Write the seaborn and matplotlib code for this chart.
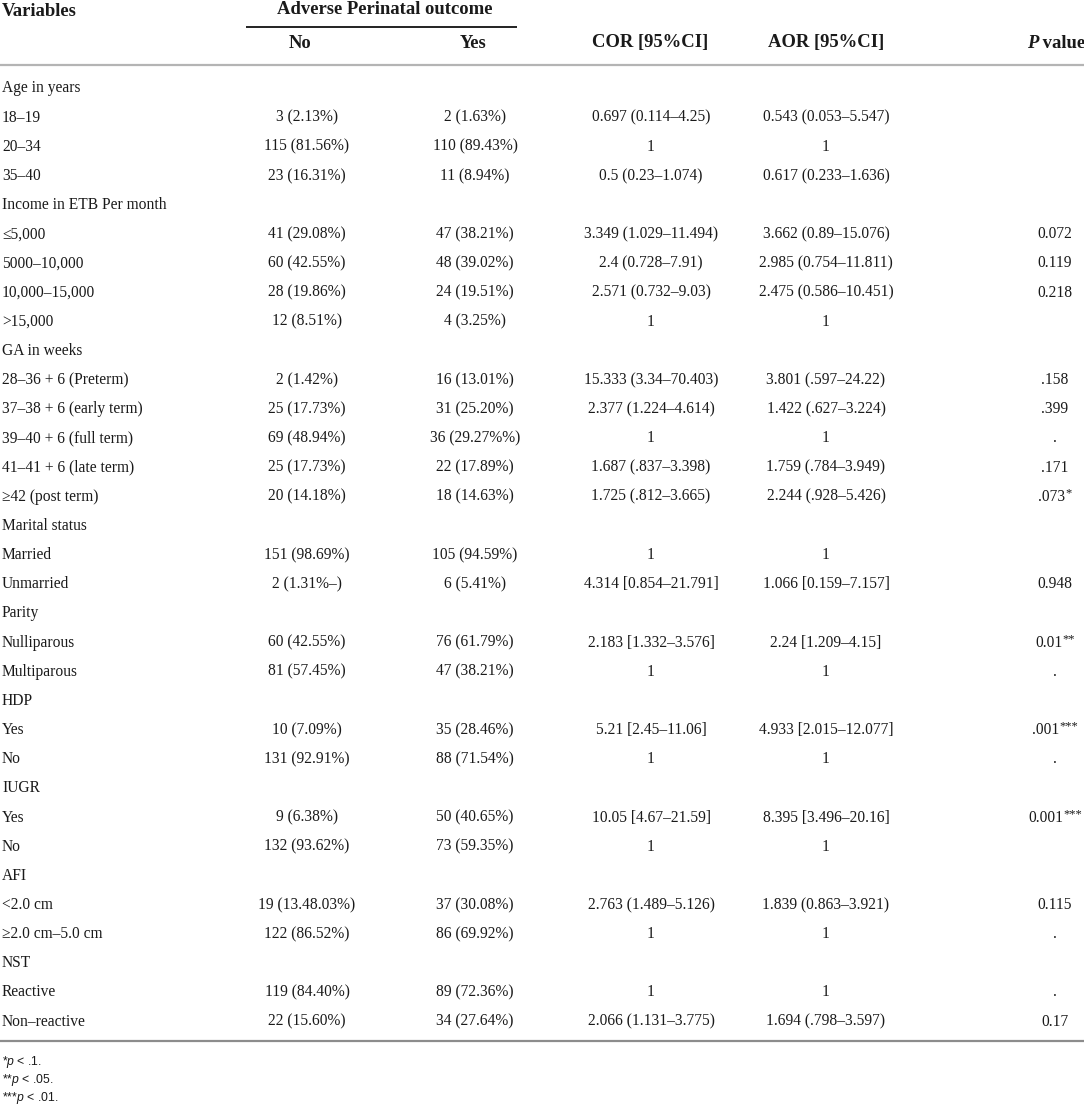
import matplotlib
matplotlib.use("Agg")
import matplotlib.pyplot as plt
import seaborn as sns

# ---------------- data ----------------
variables = ["Age in years", "18–19", "20–34", "35–40",
             "Income in ETB Per month", "≤5,000", "5000–10,000", "10,000–15,000", ">15,000",
             "GA in weeks", "28–36 + 6 (Preterm)", "37–38 + 6 (early term)", "39–40 + 6 (full term)",
             "41–41 + 6 (late term)", "≥42 (post term)",
             "Marital status", "Married", "Unmarried",
             "Parity", "Nulliparous", "Multiparous",
             "HDP", "Yes", "No",
             "IUGR", "Yes", "No",
             "AFI", "<2.0 cm", "≥2.0 cm–5.0 cm",
             "NST", "Reactive", "Non–reactive"]

outcome_no = ["", "3 (2.13%)", "115 (81.56%)", "23 (16.31%)",
              "", "41 (29.08%)", "60 (42.55%)", "28 (19.86%)", "12 (8.51%)",
              "", "2 (1.42%)", "25 (17.73%)", "69 (48.94%)", "25 (17.73%)", "20 (14.18%)",
              "", "151 (98.69%)", "2 (1.31%–)",
              "", "60 (42.55%)", "81 (57.45%)",
              "", "10 (7.09%)", "131 (92.91%)",
              "", "9 (6.38%)", "132 (93.62%)",
              "", "19 (13.48.03%)", "122 (86.52%)",
              "", "119 (84.40%)", "22 (15.60%)"]

outcome_yes = ["", "2 (1.63%)", "110 (89.43%)", "11 (8.94%)",
               "", "47 (38.21%)", "48 (39.02%)", "24 (19.51%)", "4 (3.25%)",
               "", "16 (13.01%)", "31 (25.20%)", "36 (29.27%%)", "22 (17.89%)", "18 (14.63%)",
               "", "105 (94.59%)", "6 (5.41%)",
               "", "76 (61.79%)", "47 (38.21%)",
               "", "35 (28.46%)", "88 (71.54%)",
               "", "50 (40.65%)", "73 (59.35%)",
               "", "37 (30.08%)", "86 (69.92%)",
               "", "89 (72.36%)", "34 (27.64%)"]

cor_ci = ["", "0.697 (0.114–4.25)", "1", "0.5 (0.23–1.074)",
          "", "3.349 (1.029–11.494)", "2.4 (0.728–7.91)", "2.571 (0.732–9.03)", "1",
          "", "15.333 (3.34–70.403)", "2.377 (1.224–4.614)", "1", "1.687 (.837–3.398)", "1.725 (.812–3.665)",
          "", "1", "4.314 [0.854–21.791]",
          "", "2.183 [1.332–3.576]", "1",
          "", "5.21 [2.45–11.06]", "1",
          "", "10.05 [4.67–21.59]", "1",
          "", "2.763 (1.489–5.126)", "1",
          "", "1", "2.066 (1.131–3.775)"]

aor_ci = ["", "0.543 (0.053–5.547)", "1", "0.617 (0.233–1.636)",
          "", "3.662 (0.89–15.076)", "2.985 (0.754–11.811)", "2.475 (0.586–10.451)", "1",
          "", "3.801 (.597–24.22)", "1.422 (.627–3.224)", "1", "1.759 (.784–3.949)", "2.244 (.928–5.426)",
          "", "1", "1.066 [0.159–7.157]",
          "", "2.24 [1.209–4.15]", "1",
          "", "4.933 [2.015–12.077]", "1",
          "", "8.395 [3.496–20.16]", "1",
          "", "1.839 (0.863–3.921)", "1",
          "", "1", "1.694 (.798–3.597)"]

p_values = ["", "", "", "",
            "", "0.072", "0.119", "0.218", "",
            "", ".158", ".399", ".", ".171", ".073",
            "", "", "0.948",
            "", "0.01", ".",
            "", ".001", ".",
            "", "0.001", "",
            "", "0.115", ".",
            "", ".", "0.17"]
p_stars = ["", "", "", "",
           "", "", "", "", "",
           "", "", "", "", "", "*",
           "", "", "",
           "", "**", "",
           "", "***", "",
           "", "***", "",
           "", "", "",
           "", "", ""]

header_group = "Adverse Perinatal outcome"
header_cols = ["No", "Yes", "COR [95%CI]", "AOR [95%CI]"]
footnotes = [r"*$p$ < .1.", r"**$p$ < .05.", r"***$p$ < .01."]

# ---------------- drawing ----------------
sns.set_theme(style="white")
plt.rcParams["font.family"] = ["Liberation Serif", "DejaVu Serif"]
plt.rcParams["mathtext.fontset"] = "custom"
plt.rcParams["mathtext.it"] = "Liberation Sans:italic"
plt.rcParams["mathtext.rm"] = "Liberation Sans"

W, H = 1084, 1110
fig = plt.figure(figsize=(W / 100, H / 100), dpi=100)
ax = fig.add_axes([0, 0, 1, 1])
ax.set_xlim(0, W)
ax.set_ylim(H, 0)
ax.axis("off")
renderer = fig.canvas.get_renderer()

ink = "#1a1a1a"
body_fs = 11.2
head_fs = 13.4

# header
ax.text(2, 11, "Variables", ha="left", va="center", fontsize=head_fs, fontweight="bold", color=ink)
ax.text(385, 10, header_group, ha="center", va="center", fontsize=head_fs, fontweight="bold", color=ink)
ax.hlines(26.5, 246, 517, color="#111111", lw=1.3)
head_x = [300, 473, 650, 826]
for x, lab in zip(head_x, header_cols):
    ax.text(x, 43, lab, ha="center", va="center", fontsize=head_fs, fontweight="bold", color=ink)
tp = ax.text(1027, 43, "P", ha="left", va="center", fontsize=head_fs, fontweight="bold",
             fontstyle="italic", color=ink)
ax.annotate(" value", xy=(1, 0), xycoords=tp, ha="left", va="bottom", fontsize=head_fs,
            fontweight="bold", color=ink)
ax.hlines(65, 0, W, color="#b4b4b4", lw=1.6)

# body rows
y0, dy = 88.5, 29.16
col_x = [307, 475, 651, 826]
p_x = 1055
for i, var in enumerate(variables):
    y = y0 + i * dy
    ax.text(2, y, var, ha="left", va="center", fontsize=body_fs, color=ink)
    for x, col in zip(col_x, [outcome_no, outcome_yes, cor_ci, aor_ci]):
        if col[i]:
            ax.text(x, y, col[i], ha="center", va="center", fontsize=body_fs, color=ink)
    if p_values[i]:
        t = ax.text(p_x, y, p_values[i], ha="left", va="center", fontsize=body_fs, color=ink)
        w = t.get_window_extent(renderer).width
        if p_stars[i]:
            s = ax.annotate(p_stars[i], xy=(1, 1), xycoords=t, xytext=(0, 1.2),
                            textcoords="offset points", ha="left", va="top",
                            fontsize=9.0, color=ink)
            w += s.get_window_extent(renderer).width
        t.set_x(p_x - w / 2)

ax.hlines(1041, 0, W, color="#8c8c8c", lw=1.6)

# footnotes
fy0, fdy = 1062, 18
for j, note in enumerate(footnotes):
    ax.text(2, fy0 + j * fdy, note, ha="left", va="center", fontsize=8.8, color=ink,
            family=["Liberation Sans", "DejaVu Sans"])

fig.savefig("out.png", dpi=100)
